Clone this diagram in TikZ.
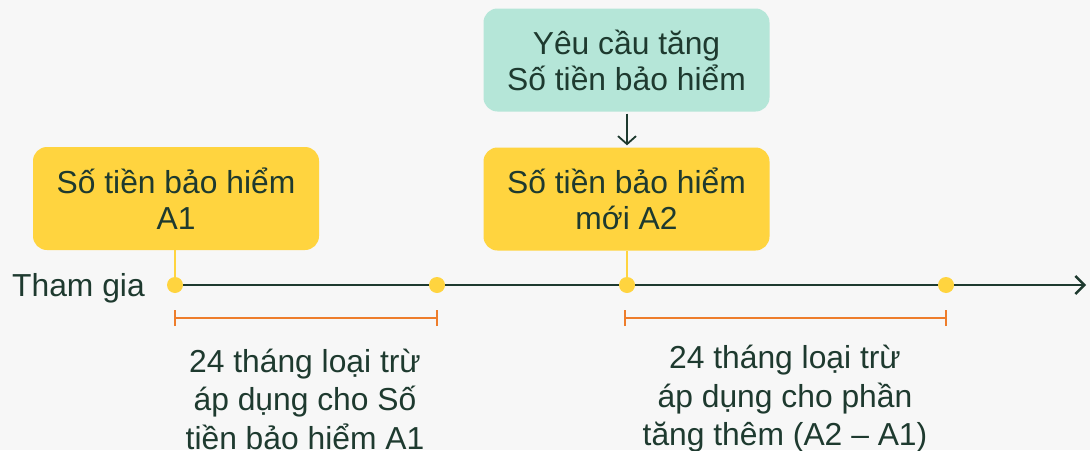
\documentclass[tikz,border=0pt]{standalone}
\usepackage{fontspec}
\setmainfont{Liberation Sans}
\usetikzlibrary{arrows.meta}
\definecolor{bg}{HTML}{F7F7F7}
\definecolor{ink}{HTML}{1E3A2F}
\definecolor{yel}{HTML}{FFD43F}
\definecolor{teal}{HTML}{B5E6D8}
\definecolor{org}{HTML}{EE7D2B}
\tikzset{
  box/.style={rounded corners=14pt, minimum width=286pt, minimum height=103pt, align=center, text=ink, inner sep=0pt,
    font=\fontsize{31.8}{36}\selectfont},
  lbl/.style={align=center, text=ink, font=\fontsize{31.8}{38.5}\selectfont, inner sep=0pt},
  dot/.style={circle, fill=yel, minimum size=16pt, inner sep=0pt},
  stem/.style={yel, line width=2.6pt},
  span/.style={org, line width=2.4pt},
}
\begin{document}
\begin{tikzpicture}[x=1pt,y=-1pt]
\fill[bg] (0,0) rectangle (1090,450);
\useasboundingbox (0,0) rectangle (1090,450);
% boxes
\node[box, fill=yel] (a1) at (176,198.5) {Số tiền bảo hiểm\\A1};
\node[box, fill=teal] (req) at (626.5,60) {Yêu cầu tăng\\Số tiền bảo hiểm};
\node[box, fill=yel] (a2) at (626.5,199) {Số tiền bảo hiểm\\mới A2};
% timeline
\coordinate (start) at (175,285);
\coordinate (end) at (1086,285);
\draw[ink, line width=2.8pt, -{Straight Barb[length=9pt,width=18pt,line width=2.4pt]}] (start) -- (end);
\node[dot] (d1) at (175,285) {};
\node[dot] (d2) at (437,285) {};
\node[dot] (d3) at (627,285) {};
\node[dot] (d4) at (946,285) {};
\draw[stem] (a1.south -| d1) -- (d1);
\draw[stem] (a2.south -| d3) -- (d3);
\draw[ink, line width=1.8pt, -{Straight Barb[length=8pt,width=18pt,line width=1.8pt]}] ([yshift=-2pt]req.south -| d3) -- ([yshift=2pt]a2.north -| d3);
\node[anchor=base west, text=ink, font=\fontsize{31.8}{36}\selectfont, inner sep=0pt] (join) at (12,296) {Tham gia};
% spans
\coordinate (s1a) at (175,318);
\coordinate (s1b) at (437,318);
\coordinate (s2a) at (625,318);
\coordinate (s2b) at (946,318);
\draw[span] (s1a) -- (s1b);
\draw[span] ([yshift=-8pt]s1a) -- ([yshift=8pt]s1a);
\draw[span] ([yshift=-8pt]s1b) -- ([yshift=8pt]s1b);
\draw[span] (s2a) -- (s2b);
\draw[span] ([yshift=-8pt]s2a) -- ([yshift=8pt]s2a);
\draw[span] ([yshift=-8pt]s2b) -- ([yshift=8pt]s2b);
\node[lbl] (l1) at (305,399) {24 tháng loại trừ\\áp dụng cho Số\\tiền bảo hiểm A1};
\node[lbl] (l2) at (785,399) {24 tháng loại trừ\\áp dụng cho phần\\tăng thêm (A2 – A1)};
\end{tikzpicture}
\end{document}
